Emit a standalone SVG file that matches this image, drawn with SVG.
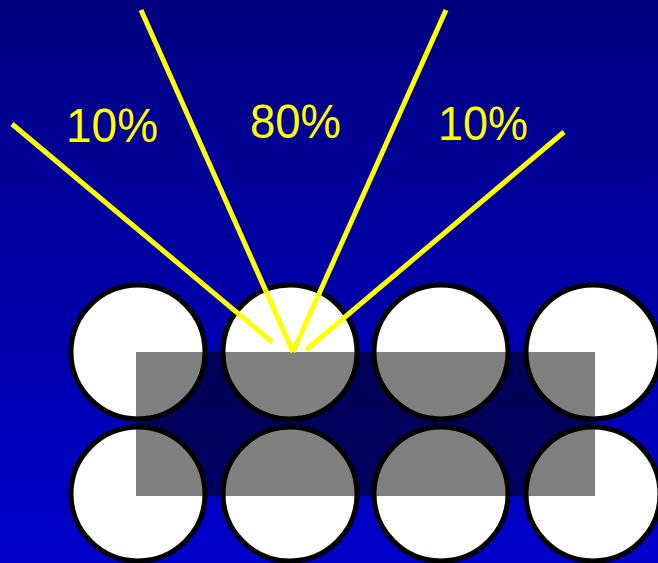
<svg xmlns="http://www.w3.org/2000/svg" width="658" height="563" viewBox="0 0 658 563">
<style>
.ball{fill:#ffffff;stroke:none}
.shade{fill:#808080;stroke:none}
.rim{fill:none;stroke:#000000;stroke-width:5}
.ray{stroke:#ffff00;stroke-width:5;fill:none}
.lbl{font-family:"Liberation Sans",Arial,sans-serif;font-size:49px;fill:#ffff00}
</style>
<defs>
<linearGradient id="bg" x1="0" y1="0" x2="0" y2="563" gradientUnits="userSpaceOnUse">
<stop offset="0" stop-color="#000080"/>
<stop offset="1" stop-color="#0000cc"/>
</linearGradient>
<linearGradient id="bgd" x1="0" y1="0" x2="0" y2="563" gradientUnits="userSpaceOnUse">
<stop offset="0" stop-color="#000040"/>
<stop offset="1" stop-color="#000066"/>
</linearGradient>
<clipPath id="rc"><rect x="136" y="352" width="459" height="144"/></clipPath>
</defs>
<rect id="background" x="0" y="0" width="658" height="563" fill="url(#bg)"/>
<rect id="shadow-band" x="136" y="352" width="459" height="144" fill="url(#bgd)"/>
<g id="circles">
<g id="c11"><circle class="ball" cx="138" cy="352" r="67"/></g>
<g id="c12"><circle class="ball" cx="290" cy="352" r="67"/></g>
<g id="c13"><circle class="ball" cx="441" cy="352" r="67"/></g>
<g id="c14"><circle class="ball" cx="593" cy="352" r="67"/></g>
<g id="c21"><circle class="ball" cx="138" cy="494" r="67"/></g>
<g id="c22"><circle class="ball" cx="290" cy="494" r="67"/></g>
<g id="c23"><circle class="ball" cx="441" cy="494" r="67"/></g>
<g id="c24"><circle class="ball" cx="593" cy="494" r="67"/></g>
</g>
<g id="shading" clip-path="url(#rc)">
<circle class="shade" cx="138" cy="352" r="67"/>
<circle class="shade" cx="290" cy="352" r="67"/>
<circle class="shade" cx="441" cy="352" r="67"/>
<circle class="shade" cx="593" cy="352" r="67"/>
<circle class="shade" cx="138" cy="494" r="67"/>
<circle class="shade" cx="290" cy="494" r="67"/>
<circle class="shade" cx="441" cy="494" r="67"/>
<circle class="shade" cx="593" cy="494" r="67"/>
</g>
<g id="rims">
<circle class="rim" cx="138" cy="352" r="67"/>
<circle class="rim" cx="290" cy="352" r="67"/>
<circle class="rim" cx="441" cy="352" r="67"/>
<circle class="rim" cx="593" cy="352" r="67"/>
<circle class="rim" cx="138" cy="494" r="67"/>
<circle class="rim" cx="290" cy="494" r="67"/>
<circle class="rim" cx="441" cy="494" r="67"/>
<circle class="rim" cx="593" cy="494" r="67"/>
</g>
<g id="rays">
<line class="ray" x1="12" y1="124" x2="272" y2="342"/>
<line class="ray" x1="141" y1="10" x2="293" y2="352"/>
<line class="ray" x1="446" y1="10" x2="293" y2="352"/>
<line class="ray" x1="564" y1="132" x2="306" y2="350"/>
</g>
<g id="labels">
<text class="lbl" x="66" y="141.5" textLength="92" lengthAdjust="spacingAndGlyphs">10%</text>
<text class="lbl" x="250" y="137.5" textLength="91" lengthAdjust="spacingAndGlyphs">80%</text>
<text class="lbl" x="438" y="140" textLength="90" lengthAdjust="spacingAndGlyphs">10%</text>
</g>
</svg>
